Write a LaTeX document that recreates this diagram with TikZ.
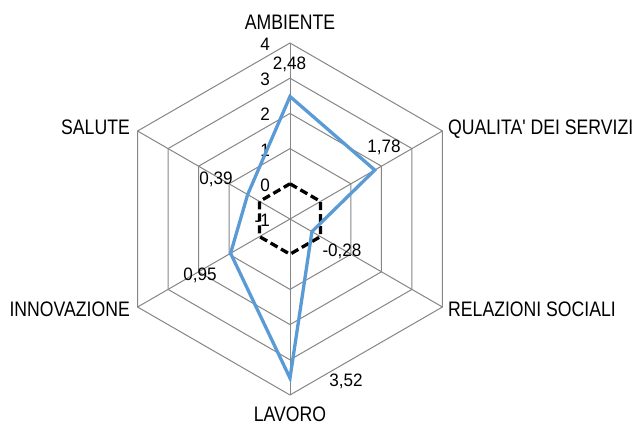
\documentclass[tikz,border=0pt]{standalone}
\usepackage{fontspec}
\setmainfont{Liberation Sans}
\newfontfamily\catfont[FakeStretch=0.84]{Liberation Sans}
\newfontfamily\numfont[FakeStretch=0.95]{Liberation Sans}
\definecolor{gridgray}{RGB}{134,134,134}
\definecolor{serblue}{RGB}{91,155,213}
\tikzset{
  gridline/.style={draw=gridgray, line width=1pt},
  series/.style={draw=serblue, line width=3.3pt, line join=miter},
  zeroring/.style={draw=black, line width=3.3pt, dash pattern=on 8pt off 4pt},
  catlabel/.style={inner sep=0pt, font=\catfont\fontsize{21}{21}\selectfont},
  numlabel/.style={inner sep=0pt, font=\numfont\fontsize{18}{18}\selectfont},
}
\begin{document}
\begin{tikzpicture}[x=1pt,y=1pt]
\useasboundingbox (0,0) rectangle (635,421);
\fill[white] (0,0) rectangle (635,421);
\begin{scope}[shift={(290,202)}]
  % rings for values 1..4 (radius (v+1)*35.2)
  \foreach \v in {1,2,3,4}{
    \pgfmathsetmacro{\r}{(\v+1)*35.2}
    \draw[gridline] (90:\r) -- (30:\r) -- (-30:\r) -- (-90:\r) -- (210:\r) -- (150:\r) -- cycle;
  }
  % spokes
  \coordinate (O) at (0,0);
  \foreach \a/\n in {90/amb,30/qua,-30/rel,-90/lav,210/inn,150/sal}{
    \coordinate (\n) at (\a:176);
    \draw[gridline] (O) -- (\n);
  }
  % axis value labels
  \foreach \v/\t in {4/4,3/3,2/2,1/1,0/0,-1/-1}{
    \pgfmathsetmacro{\r}{(\v+1)*35.2}
    \node[numlabel, anchor=base east] (ax\v) at (-20,\r-7.5) {\t};
  }
  % zero ring
  \coordinate (z1) at (90:35.2);
  \coordinate (z2) at (30:35.2);
  \coordinate (z3) at (-30:35.2);
  \coordinate (z4) at (-90:35.2);
  \coordinate (z5) at (210:35.2);
  \coordinate (z6) at (150:35.2);
  \draw[zeroring] (z1) -- (z2) -- (z3) -- (z4) -- (z5) -- (z6) -- cycle;
  % series
  \coordinate (s1) at (90:122.5);
  \coordinate (s2) at (30:97.9);
  \coordinate (s3) at (-30:25.3);
  \coordinate (s4) at (-90:159.1);
  \coordinate (s5) at (210:68.6);
  \coordinate (s6) at (150:48.9);
  \draw[series] (s1) -- (s2) -- (s3) -- (s4) -- (s5) -- (s6) -- cycle;
\end{scope}
% data labels
\node[numlabel, anchor=base] (d1) at (289.5,351) {2,48};
\node[numlabel, anchor=base] (d2) at (384,268) {1,78};
\node[numlabel, anchor=base] (d3) at (342,164.5) {-0,28};
\node[numlabel, anchor=base] (d4) at (346,34.3) {3,52};
\node[numlabel, anchor=base] (d5) at (200,141) {0,95};
\node[numlabel, anchor=base] (d6) at (216,236) {0,39};
% category labels
\node[catlabel, anchor=base] (lamb) at (290,391) {AMBIENTE};
\node[catlabel, anchor=base west] (lqua) at (448,286) {QUALITA' DEI SERVIZI};
\node[catlabel, anchor=base west] (lrel) at (448,104.3) {RELAZIONI SOCIALI};
\node[catlabel, anchor=base] (llav) at (290,0) {LAVORO};
\node[catlabel, anchor=base east] (linn) at (130,104.3) {INNOVAZIONE};
\node[catlabel, anchor=base east] (lsal) at (130,286) {SALUTE};
\end{tikzpicture}
\end{document}
